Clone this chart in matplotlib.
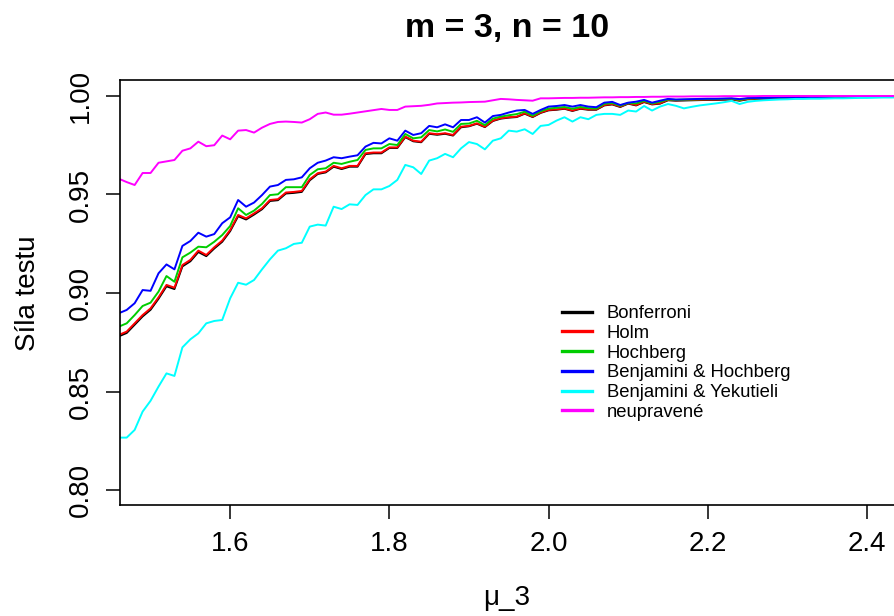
import numpy as np
import matplotlib
matplotlib.use("Agg")
import matplotlib.pyplot as plt

plt.rcParams['font.family'] = ['Liberation Sans', 'DejaVu Sans']

# mu_3 grid, step 0.01
mu3 = np.round(np.arange(1.46, 2.445, 0.01), 2)

holm = [0.8787, 0.8804, 0.8846, 0.8888, 0.8922, 0.8978, 0.9041, 0.9027, 0.9142, 0.9168,
        0.9215, 0.9193, 0.9232, 0.9266, 0.9320, 0.9396, 0.9379, 0.9404, 0.9430, 0.9472,
        0.9476, 0.9510, 0.9513, 0.9518, 0.9577, 0.9608, 0.9616, 0.9645, 0.9633, 0.9645,
        0.9645, 0.9709, 0.9713, 0.9713, 0.9739, 0.9739, 0.9794, 0.9773, 0.9768, 0.9811,
        0.9806, 0.9811, 0.9802, 0.9844, 0.9848, 0.9861, 0.9844, 0.9875, 0.9887, 0.9892,
        0.9895, 0.9912, 0.9895, 0.9916, 0.9929, 0.9932, 0.9937, 0.9926, 0.9937, 0.9932,
        0.9932, 0.9954, 0.9959, 0.9946, 0.9963, 0.9954, 0.9971, 0.9959, 0.9963, 0.9980,
        0.9978, 0.9979, 0.9980, 0.9981, 0.9982, 0.9982, 0.9983, 0.9984, 0.9978, 0.9985,
        0.9986, 0.9987, 0.9988, 0.9989, 0.9990, 0.9991, 0.9992, 0.9993, 0.9993, 0.9994,
        0.9995, 0.9995, 0.9996, 0.9996, 0.9997, 0.9997, 0.9998, 0.9998, 0.9998]

bonferroni = [0.8780, 0.8797, 0.8839, 0.8881, 0.8915, 0.8971, 0.9034, 0.9020, 0.9135, 0.9161,
              0.9208, 0.9187, 0.9226, 0.9260, 0.9314, 0.9390, 0.9373, 0.9398, 0.9425, 0.9467,
              0.9471, 0.9505, 0.9508, 0.9513, 0.9572, 0.9604, 0.9612, 0.9641, 0.9629, 0.9641,
              0.9641, 0.9705, 0.9709, 0.9709, 0.9736, 0.9736, 0.9791, 0.9770, 0.9765, 0.9808,
              0.9803, 0.9808, 0.9799, 0.9841, 0.9846, 0.9859, 0.9842, 0.9873, 0.9885, 0.9890,
              0.9893, 0.9910, 0.9893, 0.9914, 0.9927, 0.9930, 0.9935, 0.9924, 0.9935, 0.9930,
              0.9930, 0.9952, 0.9957, 0.9944, 0.9961, 0.9952, 0.9969, 0.9957, 0.9961, 0.9978,
              0.9976, 0.9977, 0.9978, 0.9979, 0.9980, 0.9980, 0.9981, 0.9982, 0.9976, 0.9983,
              0.9984, 0.9985, 0.9986, 0.9987, 0.9988, 0.9989, 0.9990, 0.9991, 0.9991, 0.9992,
              0.9993, 0.9993, 0.9994, 0.9994, 0.9995, 0.9995, 0.9996, 0.9996, 0.9997]

hochberg = [0.8829, 0.8846, 0.8888, 0.8934, 0.8951, 0.9007, 0.9086, 0.9057, 0.9181, 0.9205,
            0.9235, 0.9232, 0.9260, 0.9294, 0.9340, 0.9430, 0.9396, 0.9418, 0.9452, 0.9497,
            0.9501, 0.9537, 0.9537, 0.9537, 0.9599, 0.9628, 0.9633, 0.9661, 0.9655, 0.9666,
            0.9675, 0.9726, 0.9734, 0.9734, 0.9756, 0.9751, 0.9807, 0.9785, 0.9790, 0.9827,
            0.9820, 0.9830, 0.9818, 0.9858, 0.9860, 0.9874, 0.9852, 0.9885, 0.9895, 0.9902,
            0.9908, 0.9920, 0.9900, 0.9922, 0.9936, 0.9940, 0.9944, 0.9935, 0.9944, 0.9938,
            0.9936, 0.9960, 0.9964, 0.9950, 0.9964, 0.9962, 0.9975, 0.9962, 0.9970, 0.9982,
            0.9980, 0.9981, 0.9982, 0.9983, 0.9984, 0.9984, 0.9985, 0.9986, 0.9980, 0.9987,
            0.9988, 0.9989, 0.9990, 0.9990, 0.9991, 0.9992, 0.9993, 0.9993, 0.9994, 0.9995,
            0.9995, 0.9996, 0.9996, 0.9997, 0.9997, 0.9998, 0.9998, 0.9998, 0.9999]

benj_hoch = [0.8897, 0.8914, 0.8948, 0.9015, 0.9011, 0.9100, 0.9145, 0.9120, 0.9239, 0.9264,
             0.9306, 0.9286, 0.9299, 0.9354, 0.9384, 0.9472, 0.9438, 0.9459, 0.9497, 0.9540,
             0.9548, 0.9574, 0.9577, 0.9587, 0.9633, 0.9661, 0.9672, 0.9689, 0.9684, 0.9692,
             0.9699, 0.9743, 0.9762, 0.9759, 0.9785, 0.9773, 0.9824, 0.9802, 0.9811, 0.9848,
             0.9841, 0.9856, 0.9841, 0.9878, 0.9878, 0.9892, 0.9865, 0.9898, 0.9904, 0.9916,
             0.9926, 0.9929, 0.9909, 0.9929, 0.9946, 0.9949, 0.9954, 0.9946, 0.9954, 0.9946,
             0.9943, 0.9966, 0.9970, 0.9954, 0.9966, 0.9971, 0.9980, 0.9966, 0.9976, 0.9985,
             0.9982, 0.9983, 0.9984, 0.9985, 0.9986, 0.9986, 0.9987, 0.9988, 0.9984, 0.9989,
             0.9990, 0.9990, 0.9991, 0.9992, 0.9992, 0.9993, 0.9994, 0.9994, 0.9995, 0.9995,
             0.9996, 0.9996, 0.9997, 0.9997, 0.9998, 0.9998, 0.9998, 0.9999, 0.9999]

benj_yek = [0.8266, 0.8266, 0.8305, 0.8398, 0.8453, 0.8525, 0.8592, 0.8579, 0.8724, 0.8765,
            0.8795, 0.8846, 0.8858, 0.8863, 0.8973, 0.9052, 0.9042, 0.9066, 0.9120, 0.9171,
            0.9215, 0.9227, 0.9249, 0.9255, 0.9337, 0.9347, 0.9342, 0.9438, 0.9426, 0.9450,
            0.9447, 0.9497, 0.9526, 0.9526, 0.9543, 0.9574, 0.9650, 0.9638, 0.9604, 0.9672,
            0.9684, 0.9706, 0.9689, 0.9734, 0.9766, 0.9756, 0.9729, 0.9773, 0.9785, 0.9824,
            0.9819, 0.9831, 0.9807, 0.9848, 0.9853, 0.9875, 0.9892, 0.9870, 0.9892, 0.9882,
            0.9904, 0.9909, 0.9909, 0.9904, 0.9926, 0.9921, 0.9949, 0.9926, 0.9946, 0.9959,
            0.9950, 0.9937, 0.9945, 0.9952, 0.9957, 0.9962, 0.9968, 0.9975, 0.9959, 0.9970,
            0.9975, 0.9978, 0.9980, 0.9982, 0.9983, 0.9985, 0.9985, 0.9986, 0.9986, 0.9987,
            0.9988, 0.9988, 0.9989, 0.9990, 0.9990, 0.9991, 0.9992, 0.9992, 0.9993]

unadjusted = [0.9580, 0.9563, 0.9548, 0.9609, 0.9609, 0.9661, 0.9668, 0.9675, 0.9722, 0.9734,
              0.9768, 0.9745, 0.9750, 0.9799, 0.9780, 0.9824, 0.9827, 0.9814, 0.9839, 0.9858,
              0.9868, 0.9870, 0.9868, 0.9865, 0.9882, 0.9909, 0.9916, 0.9905, 0.9905, 0.9910,
              0.9916, 0.9922, 0.9928, 0.9934, 0.9929, 0.9929, 0.9946, 0.9948, 0.9950, 0.9955,
              0.9962, 0.9964, 0.9966, 0.9967, 0.9969, 0.9970, 0.9971, 0.9978, 0.9985, 0.9983,
              0.9980, 0.9978, 0.9976, 0.9988, 0.9988, 0.9989, 0.9990, 0.9990, 0.9991, 0.9991,
              0.9992, 0.9993, 0.9993, 0.9994, 0.9994, 0.9995, 0.9995, 0.9996, 0.9996, 0.9997,
              0.9997, 0.9997, 0.9998, 0.9998, 0.9998, 0.9998, 0.9999, 0.9999, 0.9999, 0.9999,
              0.9999, 1.0, 1.0, 1.0, 1.0, 1.0, 1.0, 1.0, 1.0, 1.0,
              1.0, 1.0, 1.0, 1.0, 1.0, 1.0, 1.0, 1.0, 1.0]

series = [bonferroni, holm, hochberg, benj_hoch, benj_yek, unadjusted]
labels = ["Bonferroni", "Holm", "Hochberg", "Benjamini & Hochberg",
          "Benjamini & Yekutieli", "neupravené"]
colors = ["black", "red", "#00CD00", "blue", "cyan", "magenta"]

W, H = 894, 616
fig = plt.figure(figsize=(W / 100, H / 100), dpi=100)
# plot box in pixels: left 120, top 80, bottom 505, right runs off the image
ax = fig.add_axes([120 / W, (H - 505) / H, (898 - 120) / W, (505 - 80) / H])

for vals, lab, col in zip(series, labels, colors):
    ax.plot(mu3, vals, color=col, lw=1.4, label=lab)

ax.set_xlim(1.4616, 1.4616 + (898 - 120) / 796)
ax.set_ylim(0.7924, 1.0081)

ax.set_xticks([1.6, 1.8, 2.0, 2.2, 2.4])
ax.set_xticklabels(["1.6", "1.8", "2.0", "2.2", "2.4"])
ax.set_yticks([0.80, 0.85, 0.90, 0.95, 1.00])
ax.set_yticklabels(["0.80", "0.85", "0.90", "0.95", "1.00"], rotation=90, va="center")
ax.tick_params(direction="out", length=10, width=1.1, labelsize=20, pad=9)

for sp in ax.spines.values():
    sp.set_linewidth(1.2)

fig.text(507 / W, 1 - 28 / H, "m = 3, n = 10", ha="center", va="center",
         fontsize=24.5, fontweight="bold")
fig.text(507 / W, 1 - 598 / H, "μ_3", ha="center", va="center", fontsize=20)
fig.text(28 / W, 1 - 293 / H, "Síla testu", ha="center", va="center",
         fontsize=20, rotation=90)

leg = ax.legend(loc="upper left", bbox_to_anchor=(562 / W, 1 - 305 / H),
                bbox_transform=fig.transFigure, frameon=False, fontsize=13.3,
                handlelength=1.62, handletextpad=0.8, labelspacing=0.15,
                borderpad=0, borderaxespad=0)
for ln in leg.get_lines():
    ln.set_linewidth(2.4)

fig.savefig("out.png", dpi=100)
